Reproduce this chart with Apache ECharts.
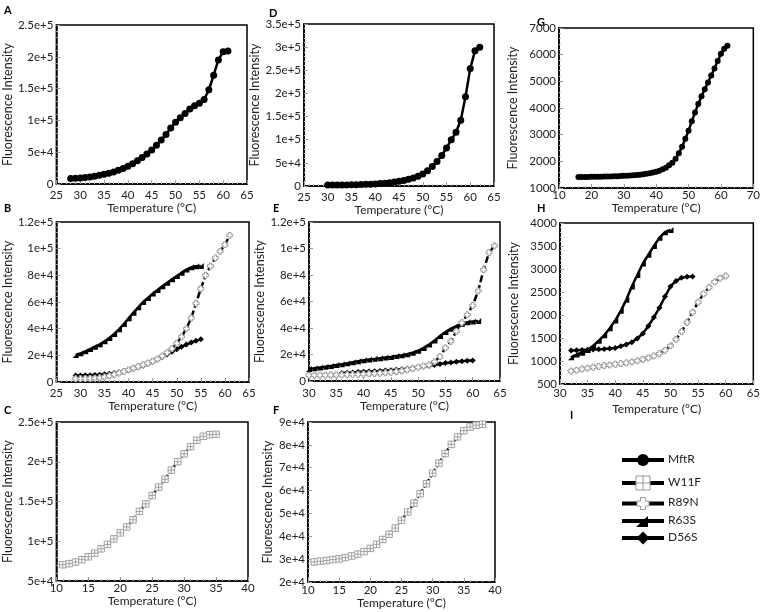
<!DOCTYPE html>
<html><head><meta charset="utf-8">
<script src="https://cdn.jsdelivr.net/npm/echarts@6/dist/echarts.min.js"></script>
<style>html,body{margin:0;padding:0;background:#fff}#c{width:763px;height:612px}</style>
</head><body><div id="c"></div>
<script>
// ---- Panel A (MftR) ----
const tempA = [28,29,30,31,32,33,34,35,36,37,38,39,40,41,42,43,44,45,46,47,48,49,50,51,52,53,54,55,56,57,58,59,60,61];
const mftrA = [8500,9000,9600,10300,11200,12300,13600,15200,17000,19000,21500,24500,28000,32000,36500,41500,47000,53500,61000,69000,78000,88000,97000,104000,111000,118000,123000,127000,133000,148000,171000,195000,208000,209000];
// ---- Panel B ----
const tempB_R63S = [29,30,31,32,33,34,35,36,37,38,39,40,41,42,43,44,45,46,47,48,49,50,51,52,53,54,55];
const r63sB = [20300,21500,23000,24700,26500,28300,30500,33000,36000,39500,43500,47800,52000,56000,60000,63000,66300,69000,71800,74500,77000,79500,82000,84300,86000,86800,87000];
const tempB_D56S = [29,30,31,32,33,34,35,36,37,38,39,40,41,42,43,44,45,46,47,48,49,50,51,52,53,54,55];
const d56sB = [4800,4900,5000,5100,5300,5500,5800,6200,6700,7300,8000,8900,9900,11000,12200,13600,15100,16900,18800,20700,22700,24600,26400,28100,29600,30900,32000];
const tempB_R89N = [29,30,31,32,33,34,35,36,37,38,39,40,41,42,43,44,45,46,47,48,49,50,51,52,53,54,55,56,57,58,59,60,61];
const r89nB = [2500,2500,2600,2700,2900,3200,3800,4600,5600,6700,7900,9100,10300,11600,12900,14200,15600,17300,19500,22000,25000,29000,34000,40000,48000,59000,70000,80000,87000,93000,98000,103000,110000];
// ---- Panel C (W11F) ----
const tempC = [11,12,13,14,15,16,17,18,19,20,21,22,23,24,25,26,27,28,29,30,31,32,33,34,35];
const w11fC = [70500,71800,73800,76800,80500,85000,90500,96000,103000,110500,118000,127000,137500,147000,157500,168000,178000,189500,200000,210000,219000,227000,232000,234000,234500];
// ---- Panel D (MftR) ----
const tempD = [30,31,32,33,34,35,36,37,38,39,40,41,42,43,44,45,46,47,48,49,50,51,52,53,54,55,56,57,58,59,60,61,62];
const mftrD = [2000,2000,2000,2200,2400,2600,2900,3200,3600,4000,4500,5200,6000,7000,8500,10000,12000,14500,17500,21000,26000,33000,42000,53000,66000,82000,100000,116000,142000,193000,254000,292000,300000];
// ---- Panel E ----
const tempE_R63S = [30,31,32,33,34,35,36,37,38,39,40,41,42,43,44,45,46,47,48,49,50,51,52,53,54,55,56,57,58,59,60,61];
const r63sE = [9000,9600,10200,10800,11400,12000,12700,13400,14200,15000,15600,16200,16700,17200,17700,18200,18800,19400,20200,21300,22800,25000,27500,30500,34000,37000,39500,41500,43200,44300,45000,45300];
const tempE_R89N = [30,31,32,33,34,35,36,37,38,39,40,41,42,43,44,45,46,47,48,49,50,51,52,53,54,55,56,57,58,59,60,61,62,63,64];
const r89nE = [4300,4350,4400,4450,4500,4600,4700,4800,4900,5000,5200,5400,5600,5900,6200,6600,7100,7700,8500,9400,10400,11300,12200,14500,18500,25000,30000,37500,44000,50000,57000,68000,84000,97000,102000];
const tempE_D56S = [36,37,38,39,40,41,42,43,44,45,46,47,48,49,50,51,52,53,54,55,56,57,58,59,60];
const d56sE = [6100,6300,6500,6700,6900,7100,7300,7600,7900,8200,8500,8900,9300,9800,10300,10900,11500,12100,12800,13500,14000,14500,14900,15200,15400];
// ---- Panel F (W11F) ----
const tempF = [11,12,13,14,15,16,17,18,19,20,21,22,23,24,25,26,27,28,29,30,31,32,33,34,35,36,37,38];
const w11fF = [28800,29100,29400,29800,30100,30700,31400,32200,33300,34700,36500,38600,40900,43600,47000,50600,54500,58600,63000,67600,72000,76200,80200,83500,86200,87800,88600,89000];
// ---- Panel G (MftR) ----
const tempG = [16,17,18,19,20,21,22,23,24,25,26,27,28,29,30,31,32,33,34,35,36,37,38,39,40,41,42,43,44,45,46,47,48,49,50,51,52,53,54,55,56,57,58,59,60,61,62];
const mftrG = [1408,1410,1413,1415,1418,1420,1422,1425,1428,1430,1435,1440,1445,1450,1455,1460,1470,1480,1490,1500,1515,1535,1555,1580,1610,1650,1700,1760,1850,1950,2100,2300,2550,2850,3150,3500,3830,4150,4440,4700,4960,5220,5480,5760,6030,6220,6330];
// ---- Panel H ----
const tempH_R63S = [32,33,34,35,36,37,38,39,40,41,42,43,44,45,46,47,48,49,50];
const r63sH = [1080,1140,1180,1240,1330,1440,1560,1710,1880,2090,2330,2620,2870,3120,3310,3500,3680,3800,3850];
const tempH_D56S = [32,33,34,35,36,37,38,39,40,41,42,43,44,45,46,47,48,49,50,51,52,53,54];
const d56sH = [1230,1235,1240,1245,1250,1255,1262,1272,1285,1320,1360,1410,1490,1600,1760,1950,2160,2400,2620,2740,2810,2830,2835];
const tempH_R89N = [32,33,34,35,36,37,38,39,40,41,42,43,44,45,46,47,48,49,50,51,52,53,54,55,56,57,58,59,60];
const r89nH = [780,800,825,845,865,880,900,915,930,945,960,980,1005,1035,1070,1110,1160,1230,1330,1470,1640,1840,2060,2280,2460,2600,2720,2800,2850];
// ---- labels ----
const panelLetters = ['A','B','C','D','E','F','G','H','I'];
const legendNames = ['MftR','W11F','R89N','R63S','D56S'];
const xTitle = 'Temperature (°C)';
const yTitle = 'Fluorescence Intensity';

const FONT = 'Lato, "Liberation Sans", sans-serif';
const zip = (xs, ys) => xs.map((x, i) => [x, ys[i]]);

const SQ_CROSS = 'path://M0,0 L10,0 L10,10 L0,10 Z M5,0 L5,10 M0,5 L10,5';
const PLUS = 'path://M3,0 L7,0 L7,3 L10,3 L10,7 L7,7 L7,10 L3,10 L3,7 L0,7 L0,3 L3,3 Z';
const TRI = 'path://M0,10 L10,0 L10,10 Z';

function sMftR(gi, data, size) {
  return {type:'line', name:'MftR', xAxisIndex:gi, yAxisIndex:gi, data, symbol:'circle', symbolSize:size,
    itemStyle:{color:'#000'}, lineStyle:{color:'#000', width:2.5}, animation:false};
}
function sW11F(gi, data) {
  return {type:'line', name:'W11F', xAxisIndex:gi, yAxisIndex:gi, data, symbol:SQ_CROSS, symbolSize:6.5,
    itemStyle:{color:'#fff', borderColor:'#a0a0a0', borderWidth:1}, lineStyle:{color:'#000', width:2.5, type:[2,2]}, animation:false};
}
function sR89N(gi, data) {
  return {type:'line', name:'R89N', xAxisIndex:gi, yAxisIndex:gi, data, symbol:PLUS, symbolSize:6,
    itemStyle:{color:'#fff', borderColor:'#9a9a9a', borderWidth:1}, lineStyle:{color:'#000', width:2.5, type:[7,3]}, animation:false};
}
function sR63S(gi, data) {
  return {type:'line', name:'R63S', xAxisIndex:gi, yAxisIndex:gi, data, symbol:TRI, symbolSize:6,
    itemStyle:{color:'#000'}, lineStyle:{color:'#000', width:2.5}, animation:false};
}
function sD56S(gi, data) {
  return {type:'line', name:'D56S', xAxisIndex:gi, yAxisIndex:gi, data, symbol:'diamond', symbolSize:6,
    itemStyle:{color:'#000'}, lineStyle:{color:'#000', width:2.5}, animation:false};
}

const grids = [
  {left:54, top:25, width:193, height:159},   // A
  {left:53, top:222, width:196, height:160},  // B
  {left:54, top:422, width:194, height:159},  // C
  {left:304, top:24, width:190, height:162},  // D
  {left:309, top:222, width:191, height:159}, // E
  {left:308, top:422, width:187, height:160}, // F
  {left:559, top:28, width:197, height:160},  // G
  {left:560, top:223, width:197, height:161}  // H
].map(g => Object.assign({show:true, borderColor:'#000', borderWidth:1.5, backgroundColor:'#fff'}, g));

function expFmt(v){ return v === 0 ? '0' : v.toExponential(); }
function plainFmt(v){ return String(v); }

function xAx(gi, min, max, interval, nameGap, margin) {
  return {type:'value', gridIndex:gi, min, max, interval, name:xTitle, nameLocation:'middle', nameGap,
    nameTextStyle:{fontSize:12, color:'#222', fontFamily:FONT},
    axisLine:{show:true, onZero:false, lineStyle:{color:'#000', width:1.5}},
    axisTick:{show:true, inside:true, length:4, lineStyle:{color:'#999'}},
    minorTick:{show:true, splitNumber:5, length:2, lineStyle:{color:'#bbb'}},
    axisLabel:{fontSize:11.5, color:'#222', margin, fontFamily:FONT},
    splitLine:{show:false}};
}
function yAx(gi, min, max, interval, nameGap, fmt) {
  return {type:'value', gridIndex:gi, min, max, interval, name:yTitle, nameLocation:'middle', nameGap,
    nameTextStyle:{fontSize:12.5, color:'#222', fontFamily:FONT},
    axisLine:{show:true, onZero:false, lineStyle:{color:'#000', width:1.5}},
    axisTick:{show:true, inside:true, length:4, lineStyle:{color:'#999'}},
    minorTick:{show:true, splitNumber:5, length:2, lineStyle:{color:'#bbb'}},
    axisLabel:{fontSize:11.5, color:'#222', margin:3, formatter:fmt, fontFamily:FONT},
    splitLine:{show:false}};
}

const xAxes = [
  xAx(0, 25, 65, 5, 17, 5),
  xAx(1, 25, 65, 5, 17, 5),
  xAx(2, 10, 40, 5, 12, 1),
  xAx(3, 25, 65, 5, 15, 5),
  xAx(4, 30, 65, 5, 18, 6),
  xAx(5, 10, 40, 5, 12, 2),
  xAx(6, 10, 70, 10, 10, 1),
  xAx(7, 30, 65, 5, 19, 3)
];
const yAxes = [
  yAx(0, 0, 250000, 50000, 40, expFmt),
  yAx(1, 0, 120000, 20000, 39, expFmt),
  yAx(2, 50000, 250000, 50000, 40, expFmt),
  yAx(3, 0, 350000, 50000, 35, expFmt),
  yAx(4, 0, 120000, 20000, 39, expFmt),
  yAx(5, 20000, 90000, 10000, 34, expFmt),
  yAx(6, 1000, 7000, 1000, 40, plainFmt),
  yAx(7, 500, 4000, 500, 40, plainFmt)
];

const series = [
  sMftR(0, zip(tempA, mftrA), 7),
  sR63S(1, zip(tempB_R63S, r63sB)),
  sD56S(1, zip(tempB_D56S, d56sB)),
  sR89N(1, zip(tempB_R89N, r89nB)),
  sW11F(2, zip(tempC, w11fC)),
  sMftR(3, zip(tempD, mftrD), 7),
  sR63S(4, zip(tempE_R63S, r63sE)),
  sD56S(4, zip(tempE_D56S, d56sE)),
  sR89N(4, zip(tempE_R89N, r89nE)),
  sW11F(5, zip(tempF, w11fF)),
  sMftR(6, zip(tempG, mftrG), 6),
  sR63S(7, zip(tempH_R63S, r63sH)),
  sD56S(7, zip(tempH_D56S, d56sH)),
  sR89N(7, zip(tempH_R89N, r89nH))
];

// panel letters
const letterPos = [[4,5],[4,203],[4,405],[269,8],[273,203],[273,405],[537,17],[537,203],[570,410]];
const graphics = panelLetters.map((t, i) => ({type:'text', left:letterPos[i][0], top:letterPos[i][1],
  style:{text:t, font:'bold 11px ' + FONT, fill:'#000'}}));

// legend (panel I)
const lgY = [460, 483, 503.5, 521, 538];
const lx1 = 622, lx2 = 664, cx = 643;
lgY.forEach((y, i) => {
  graphics.push({type:'line', shape:{x1:lx1, y1:y, x2:lx2, y2:y}, style:{stroke:'#000', lineWidth:4}});
  graphics.push({type:'text', left:668, top:y - 7, style:{text:legendNames[i], font:'12px ' + FONT, fill:'#222'}});
});
graphics.push({type:'circle', shape:{cx:cx, cy:lgY[0], r:6}, style:{fill:'#000'}});
graphics.push({type:'rect', shape:{x:cx-7, y:lgY[1]-7, width:14, height:14}, style:{fill:'#fff', stroke:'#999', lineWidth:1}});
graphics.push({type:'line', shape:{x1:cx, y1:lgY[1]-7, x2:cx, y2:lgY[1]+7}, style:{stroke:'#999', lineWidth:1}});
graphics.push({type:'line', shape:{x1:cx-7, y1:lgY[1], x2:cx+7, y2:lgY[1]}, style:{stroke:'#999', lineWidth:1}});
graphics.push({type:'polygon', shape:{points:[[cx-2.5,lgY[2]-6],[cx+2.5,lgY[2]-6],[cx+2.5,lgY[2]-2.5],[cx+6,lgY[2]-2.5],[cx+6,lgY[2]+2.5],[cx+2.5,lgY[2]+2.5],[cx+2.5,lgY[2]+6],[cx-2.5,lgY[2]+6],[cx-2.5,lgY[2]+2.5],[cx-6,lgY[2]+2.5],[cx-6,lgY[2]-2.5],[cx-2.5,lgY[2]-2.5]]}, style:{fill:'#fff', stroke:'#999', lineWidth:1}});
graphics.push({type:'polygon', shape:{points:[[cx-7,lgY[3]+6],[cx+5,lgY[3]-5],[cx+5,lgY[3]+6]]}, style:{fill:'#000'}});
graphics.push({type:'polygon', shape:{points:[[cx,lgY[4]-6.5],[cx+6.5,lgY[4]],[cx,lgY[4]+6.5],[cx-6.5,lgY[4]]]}, style:{fill:'#000'}});

const chart = echarts.init(document.getElementById('c'), null, {renderer:'canvas'});
chart.setOption({
  animation:false,
  backgroundColor:'#fff',
  textStyle:{fontFamily:FONT},
  grid:grids,
  xAxis:xAxes,
  yAxis:yAxes,
  series,
  graphic:graphics
});
</script></body></html>
